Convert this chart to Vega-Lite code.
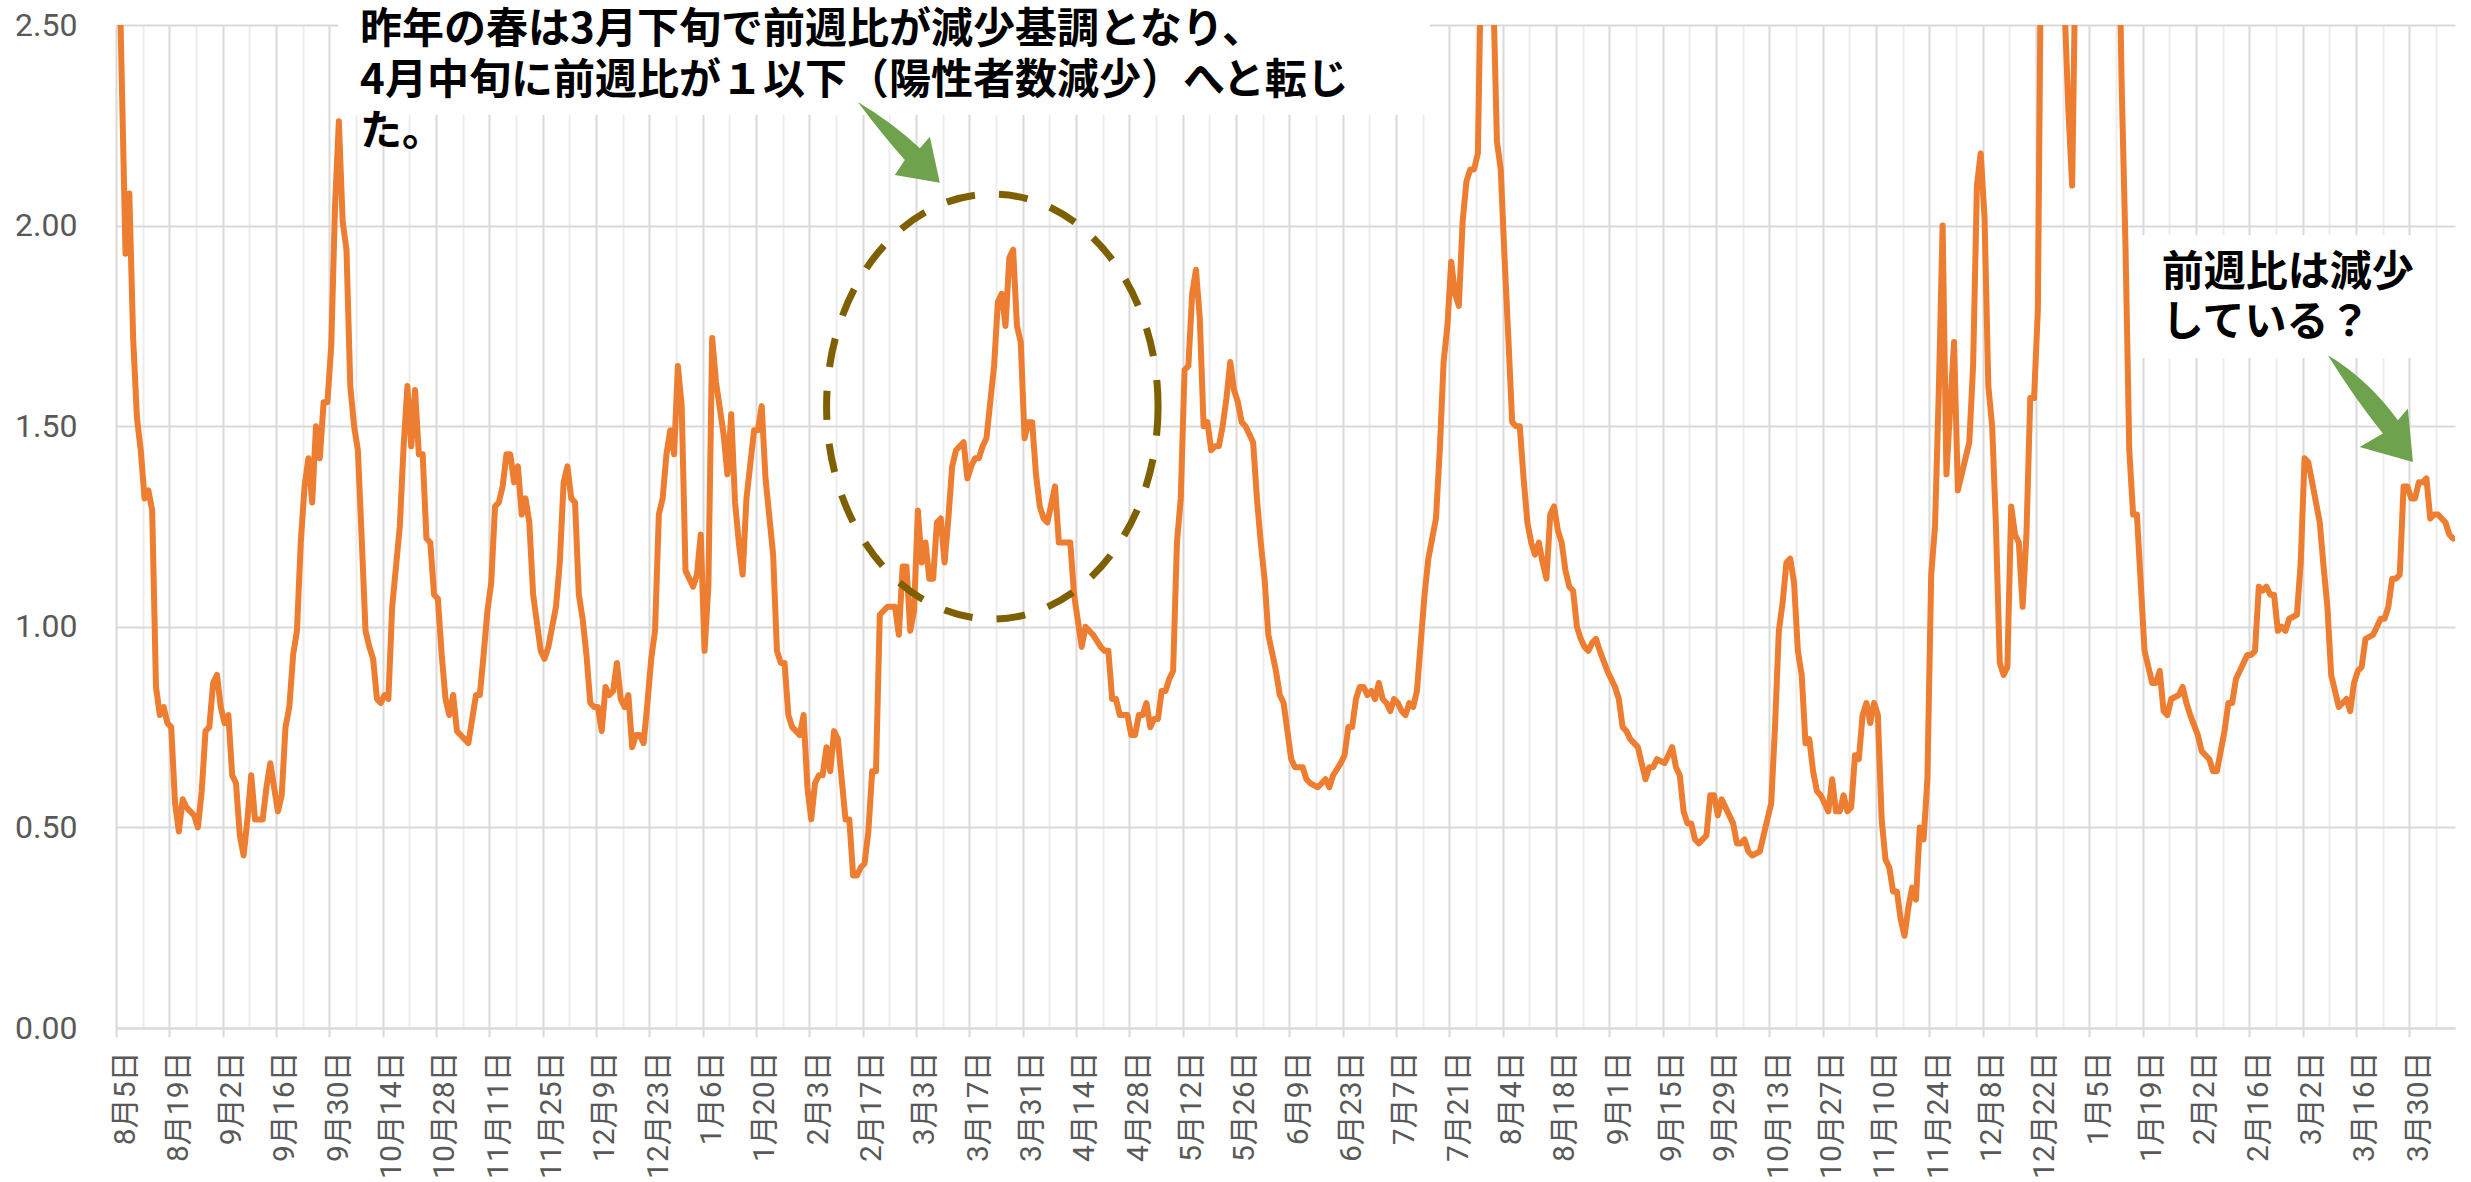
{
  "$schema": "https://vega.github.io/schema/vega-lite/v6.json",
  "width": 2339,
  "height": 1003,
  "autosize": {"type": "none"},
  "padding": {"left": 116, "top": 25, "right": 16, "bottom": 154},
  "background": "white",
  "config": {"view": {"stroke": null}},
  "datasets": {
    "ratio": [
      {"date":"2020-08-05","v":2.81},{"date":"2020-08-06","v":2.37},{"date":"2020-08-07","v":1.93},{"date":"2020-08-08","v":2.08},{"date":"2020-08-09","v":1.72},{"date":"2020-08-10","v":1.52},{"date":"2020-08-11","v":1.44},{"date":"2020-08-12","v":1.32},{"date":"2020-08-13","v":1.34},{"date":"2020-08-14","v":1.29},{"date":"2020-08-15","v":0.85},{"date":"2020-08-16","v":0.78},{"date":"2020-08-17","v":0.80},{"date":"2020-08-18","v":0.76},{"date":"2020-08-19","v":0.75},{"date":"2020-08-20","v":0.56},{"date":"2020-08-21","v":0.49},{"date":"2020-08-22","v":0.57},{"date":"2020-08-23","v":0.55},{"date":"2020-08-24","v":0.54},{"date":"2020-08-25","v":0.53},{"date":"2020-08-26","v":0.50},{"date":"2020-08-27","v":0.59},{"date":"2020-08-28","v":0.74},{"date":"2020-08-29","v":0.75},{"date":"2020-08-30","v":0.86},{"date":"2020-08-31","v":0.88},
      {"date":"2020-09-01","v":0.80},{"date":"2020-09-02","v":0.76},{"date":"2020-09-03","v":0.78},{"date":"2020-09-04","v":0.63},{"date":"2020-09-05","v":0.61},{"date":"2020-09-06","v":0.48},{"date":"2020-09-07","v":0.43},{"date":"2020-09-08","v":0.52},{"date":"2020-09-09","v":0.63},{"date":"2020-09-10","v":0.52},{"date":"2020-09-11","v":0.52},{"date":"2020-09-12","v":0.52},{"date":"2020-09-13","v":0.60},{"date":"2020-09-14","v":0.66},{"date":"2020-09-15","v":0.60},{"date":"2020-09-16","v":0.54},{"date":"2020-09-17","v":0.58},{"date":"2020-09-18","v":0.75},{"date":"2020-09-19","v":0.80},{"date":"2020-09-20","v":0.93},{"date":"2020-09-21","v":0.99},{"date":"2020-09-22","v":1.21},{"date":"2020-09-23","v":1.35},{"date":"2020-09-24","v":1.42},{"date":"2020-09-25","v":1.31},{"date":"2020-09-26","v":1.50},{"date":"2020-09-27","v":1.42},{"date":"2020-09-28","v":1.56},{"date":"2020-09-29","v":1.56},{"date":"2020-09-30","v":1.70},
      {"date":"2020-10-01","v":2.05},{"date":"2020-10-02","v":2.26},{"date":"2020-10-03","v":2.01},{"date":"2020-10-04","v":1.94},{"date":"2020-10-05","v":1.60},{"date":"2020-10-06","v":1.50},{"date":"2020-10-07","v":1.44},{"date":"2020-10-08","v":1.22},{"date":"2020-10-09","v":0.99},{"date":"2020-10-10","v":0.95},{"date":"2020-10-11","v":0.92},{"date":"2020-10-12","v":0.82},{"date":"2020-10-13","v":0.81},{"date":"2020-10-14","v":0.83},{"date":"2020-10-15","v":0.82},{"date":"2020-10-16","v":1.05},{"date":"2020-10-17","v":1.15},{"date":"2020-10-18","v":1.25},{"date":"2020-10-19","v":1.45},{"date":"2020-10-20","v":1.60},{"date":"2020-10-21","v":1.45},{"date":"2020-10-22","v":1.59},{"date":"2020-10-23","v":1.43},{"date":"2020-10-24","v":1.43},{"date":"2020-10-25","v":1.22},{"date":"2020-10-26","v":1.21},{"date":"2020-10-27","v":1.08},{"date":"2020-10-28","v":1.07},{"date":"2020-10-29","v":0.93},{"date":"2020-10-30","v":0.82},{"date":"2020-10-31","v":0.78},
      {"date":"2020-11-01","v":0.83},{"date":"2020-11-02","v":0.74},{"date":"2020-11-03","v":0.73},{"date":"2020-11-04","v":0.72},{"date":"2020-11-05","v":0.71},{"date":"2020-11-06","v":0.77},{"date":"2020-11-07","v":0.83},{"date":"2020-11-08","v":0.83},{"date":"2020-11-09","v":0.93},{"date":"2020-11-10","v":1.04},{"date":"2020-11-11","v":1.11},{"date":"2020-11-12","v":1.30},{"date":"2020-11-13","v":1.31},{"date":"2020-11-14","v":1.35},{"date":"2020-11-15","v":1.43},{"date":"2020-11-16","v":1.43},{"date":"2020-11-17","v":1.36},{"date":"2020-11-18","v":1.40},{"date":"2020-11-19","v":1.28},{"date":"2020-11-20","v":1.32},{"date":"2020-11-21","v":1.26},{"date":"2020-11-22","v":1.08},{"date":"2020-11-23","v":1.01},{"date":"2020-11-24","v":0.94},{"date":"2020-11-25","v":0.92},{"date":"2020-11-26","v":0.95},{"date":"2020-11-27","v":1.00},{"date":"2020-11-28","v":1.05},{"date":"2020-11-29","v":1.16},{"date":"2020-11-30","v":1.36},
      {"date":"2020-12-01","v":1.40},{"date":"2020-12-02","v":1.32},{"date":"2020-12-03","v":1.31},{"date":"2020-12-04","v":1.08},{"date":"2020-12-05","v":1.02},{"date":"2020-12-06","v":0.93},{"date":"2020-12-07","v":0.81},{"date":"2020-12-08","v":0.80},{"date":"2020-12-09","v":0.80},{"date":"2020-12-10","v":0.74},{"date":"2020-12-11","v":0.85},{"date":"2020-12-12","v":0.83},{"date":"2020-12-13","v":0.84},{"date":"2020-12-14","v":0.91},{"date":"2020-12-15","v":0.82},{"date":"2020-12-16","v":0.80},{"date":"2020-12-17","v":0.83},{"date":"2020-12-18","v":0.70},{"date":"2020-12-19","v":0.73},{"date":"2020-12-20","v":0.73},{"date":"2020-12-21","v":0.71},{"date":"2020-12-22","v":0.81},{"date":"2020-12-23","v":0.92},{"date":"2020-12-24","v":0.99},{"date":"2020-12-25","v":1.28},{"date":"2020-12-26","v":1.32},{"date":"2020-12-27","v":1.43},{"date":"2020-12-28","v":1.49},{"date":"2020-12-29","v":1.43},{"date":"2020-12-30","v":1.65},{"date":"2020-12-31","v":1.55},
      {"date":"2021-01-01","v":1.14},{"date":"2021-01-02","v":1.12},{"date":"2021-01-03","v":1.10},{"date":"2021-01-04","v":1.13},{"date":"2021-01-05","v":1.23},{"date":"2021-01-06","v":0.94},{"date":"2021-01-07","v":1.10},{"date":"2021-01-08","v":1.72},{"date":"2021-01-09","v":1.61},{"date":"2021-01-11","v":1.48},{"date":"2021-01-12","v":1.38},{"date":"2021-01-13","v":1.53},{"date":"2021-01-14","v":1.31},{"date":"2021-01-15","v":1.21},{"date":"2021-01-16","v":1.13},{"date":"2021-01-17","v":1.32},{"date":"2021-01-19","v":1.49},{"date":"2021-01-20","v":1.49},{"date":"2021-01-21","v":1.55},{"date":"2021-01-22","v":1.37},{"date":"2021-01-24","v":1.18},{"date":"2021-01-25","v":0.94},{"date":"2021-01-26","v":0.91},{"date":"2021-01-27","v":0.91},{"date":"2021-01-28","v":0.78},{"date":"2021-01-29","v":0.75},{"date":"2021-01-30","v":0.74},{"date":"2021-01-31","v":0.73},
      {"date":"2021-02-01","v":0.78},{"date":"2021-02-02","v":0.60},{"date":"2021-02-03","v":0.52},{"date":"2021-02-04","v":0.61},{"date":"2021-02-05","v":0.63},{"date":"2021-02-06","v":0.63},{"date":"2021-02-07","v":0.70},{"date":"2021-02-08","v":0.64},{"date":"2021-02-09","v":0.74},{"date":"2021-02-10","v":0.72},{"date":"2021-02-12","v":0.52},{"date":"2021-02-13","v":0.52},{"date":"2021-02-14","v":0.38},{"date":"2021-02-15","v":0.38},{"date":"2021-02-16","v":0.40},{"date":"2021-02-17","v":0.41},{"date":"2021-02-18","v":0.49},{"date":"2021-02-19","v":0.64},{"date":"2021-02-20","v":0.64},{"date":"2021-02-21","v":1.03},{"date":"2021-02-22","v":1.04},{"date":"2021-02-23","v":1.05},{"date":"2021-02-25","v":1.05},{"date":"2021-02-26","v":0.98},{"date":"2021-02-27","v":1.15},{"date":"2021-02-28","v":1.15},
      {"date":"2021-03-01","v":0.99},{"date":"2021-03-02","v":1.04},{"date":"2021-03-03","v":1.29},{"date":"2021-03-04","v":1.16},{"date":"2021-03-05","v":1.21},{"date":"2021-03-06","v":1.12},{"date":"2021-03-07","v":1.12},{"date":"2021-03-08","v":1.26},{"date":"2021-03-09","v":1.27},{"date":"2021-03-10","v":1.16},{"date":"2021-03-11","v":1.27},{"date":"2021-03-12","v":1.40},{"date":"2021-03-13","v":1.44},{"date":"2021-03-14","v":1.45},{"date":"2021-03-15","v":1.46},{"date":"2021-03-16","v":1.37},{"date":"2021-03-17","v":1.40},{"date":"2021-03-18","v":1.42},{"date":"2021-03-19","v":1.42},{"date":"2021-03-20","v":1.45},{"date":"2021-03-21","v":1.47},{"date":"2021-03-23","v":1.65},{"date":"2021-03-24","v":1.81},{"date":"2021-03-25","v":1.83},{"date":"2021-03-26","v":1.75},{"date":"2021-03-27","v":1.92},{"date":"2021-03-28","v":1.94},{"date":"2021-03-29","v":1.75},{"date":"2021-03-30","v":1.71},{"date":"2021-03-31","v":1.47},
      {"date":"2021-04-01","v":1.51},{"date":"2021-04-02","v":1.51},{"date":"2021-04-03","v":1.38},{"date":"2021-04-04","v":1.30},{"date":"2021-04-05","v":1.27},{"date":"2021-04-06","v":1.26},{"date":"2021-04-08","v":1.35},{"date":"2021-04-09","v":1.21},{"date":"2021-04-11","v":1.21},{"date":"2021-04-12","v":1.21},{"date":"2021-04-13","v":1.08},{"date":"2021-04-15","v":0.95},{"date":"2021-04-16","v":1.00},{"date":"2021-04-17","v":0.99},{"date":"2021-04-18","v":0.98},{"date":"2021-04-20","v":0.95},{"date":"2021-04-21","v":0.94},{"date":"2021-04-22","v":0.94},{"date":"2021-04-23","v":0.82},{"date":"2021-04-24","v":0.82},{"date":"2021-04-25","v":0.78},{"date":"2021-04-26","v":0.78},{"date":"2021-04-27","v":0.78},{"date":"2021-04-28","v":0.73},{"date":"2021-04-29","v":0.73},{"date":"2021-04-30","v":0.78},
      {"date":"2021-05-01","v":0.78},{"date":"2021-05-02","v":0.81},{"date":"2021-05-03","v":0.75},{"date":"2021-05-04","v":0.77},{"date":"2021-05-05","v":0.77},{"date":"2021-05-06","v":0.84},{"date":"2021-05-07","v":0.84},{"date":"2021-05-08","v":0.87},{"date":"2021-05-09","v":0.89},{"date":"2021-05-10","v":1.21},{"date":"2021-05-11","v":1.32},{"date":"2021-05-12","v":1.64},{"date":"2021-05-13","v":1.65},{"date":"2021-05-14","v":1.83},{"date":"2021-05-15","v":1.89},{"date":"2021-05-16","v":1.77},{"date":"2021-05-17","v":1.50},{"date":"2021-05-18","v":1.51},{"date":"2021-05-19","v":1.44},{"date":"2021-05-20","v":1.45},{"date":"2021-05-21","v":1.45},{"date":"2021-05-22","v":1.50},{"date":"2021-05-23","v":1.57},{"date":"2021-05-24","v":1.66},{"date":"2021-05-25","v":1.59},{"date":"2021-05-26","v":1.56},{"date":"2021-05-27","v":1.51},{"date":"2021-05-28","v":1.50},{"date":"2021-05-29","v":1.48},{"date":"2021-05-30","v":1.46},{"date":"2021-05-31","v":1.32},
      {"date":"2021-06-01","v":1.21},{"date":"2021-06-02","v":1.12},{"date":"2021-06-03","v":0.98},{"date":"2021-06-05","v":0.89},{"date":"2021-06-06","v":0.83},{"date":"2021-06-07","v":0.81},{"date":"2021-06-08","v":0.74},{"date":"2021-06-09","v":0.67},{"date":"2021-06-10","v":0.65},{"date":"2021-06-12","v":0.65},{"date":"2021-06-13","v":0.62},{"date":"2021-06-14","v":0.61},{"date":"2021-06-16","v":0.60},{"date":"2021-06-17","v":0.61},{"date":"2021-06-18","v":0.62},{"date":"2021-06-19","v":0.60},{"date":"2021-06-20","v":0.63},{"date":"2021-06-22","v":0.66},{"date":"2021-06-23","v":0.68},{"date":"2021-06-24","v":0.75},{"date":"2021-06-25","v":0.75},{"date":"2021-06-26","v":0.82},{"date":"2021-06-27","v":0.85},{"date":"2021-06-28","v":0.85},{"date":"2021-06-29","v":0.83},{"date":"2021-06-30","v":0.84},
      {"date":"2021-07-01","v":0.82},{"date":"2021-07-02","v":0.86},{"date":"2021-07-03","v":0.82},{"date":"2021-07-04","v":0.81},{"date":"2021-07-05","v":0.79},{"date":"2021-07-06","v":0.82},{"date":"2021-07-07","v":0.81},{"date":"2021-07-08","v":0.79},{"date":"2021-07-09","v":0.78},{"date":"2021-07-10","v":0.81},{"date":"2021-07-11","v":0.80},{"date":"2021-07-12","v":0.84},{"date":"2021-07-13","v":0.96},{"date":"2021-07-14","v":1.08},{"date":"2021-07-15","v":1.17},{"date":"2021-07-17","v":1.27},{"date":"2021-07-18","v":1.44},{"date":"2021-07-19","v":1.66},{"date":"2021-07-20","v":1.75},{"date":"2021-07-21","v":1.91},{"date":"2021-07-22","v":1.83},{"date":"2021-07-23","v":1.80},{"date":"2021-07-24","v":2.01},{"date":"2021-07-25","v":2.11},{"date":"2021-07-26","v":2.14},{"date":"2021-07-27","v":2.14},{"date":"2021-07-28","v":2.18},{"date":"2021-07-29","v":2.75},{"date":"2021-07-30","v":2.95},{"date":"2021-07-31","v":2.85},
      {"date":"2021-08-01","v":2.60},{"date":"2021-08-02","v":2.21},{"date":"2021-08-03","v":2.14},{"date":"2021-08-04","v":1.92},{"date":"2021-08-05","v":1.72},{"date":"2021-08-06","v":1.51},{"date":"2021-08-07","v":1.50},{"date":"2021-08-08","v":1.50},{"date":"2021-08-09","v":1.37},{"date":"2021-08-10","v":1.26},{"date":"2021-08-11","v":1.21},{"date":"2021-08-12","v":1.18},{"date":"2021-08-13","v":1.21},{"date":"2021-08-14","v":1.16},{"date":"2021-08-15","v":1.12},{"date":"2021-08-16","v":1.28},{"date":"2021-08-17","v":1.30},{"date":"2021-08-18","v":1.24},{"date":"2021-08-19","v":1.21},{"date":"2021-08-20","v":1.14},{"date":"2021-08-21","v":1.10},{"date":"2021-08-22","v":1.09},{"date":"2021-08-23","v":1.00},{"date":"2021-08-24","v":0.97},{"date":"2021-08-25","v":0.95},{"date":"2021-08-26","v":0.94},{"date":"2021-08-27","v":0.96},{"date":"2021-08-28","v":0.97},{"date":"2021-08-29","v":0.94},{"date":"2021-08-31","v":0.89},
      {"date":"2021-09-01","v":0.87},{"date":"2021-09-02","v":0.85},{"date":"2021-09-03","v":0.82},{"date":"2021-09-04","v":0.75},{"date":"2021-09-05","v":0.74},{"date":"2021-09-06","v":0.72},{"date":"2021-09-08","v":0.70},{"date":"2021-09-09","v":0.66},{"date":"2021-09-10","v":0.62},{"date":"2021-09-11","v":0.65},{"date":"2021-09-12","v":0.65},{"date":"2021-09-13","v":0.67},{"date":"2021-09-15","v":0.66},{"date":"2021-09-16","v":0.68},{"date":"2021-09-17","v":0.70},{"date":"2021-09-18","v":0.65},{"date":"2021-09-19","v":0.63},{"date":"2021-09-20","v":0.54},{"date":"2021-09-21","v":0.51},{"date":"2021-09-22","v":0.51},{"date":"2021-09-23","v":0.47},{"date":"2021-09-24","v":0.46},{"date":"2021-09-26","v":0.48},{"date":"2021-09-27","v":0.58},{"date":"2021-09-28","v":0.58},{"date":"2021-09-29","v":0.53},{"date":"2021-09-30","v":0.57},
      {"date":"2021-10-01","v":0.55},{"date":"2021-10-03","v":0.51},{"date":"2021-10-04","v":0.46},{"date":"2021-10-05","v":0.46},{"date":"2021-10-06","v":0.47},{"date":"2021-10-07","v":0.44},{"date":"2021-10-08","v":0.43},{"date":"2021-10-10","v":0.44},{"date":"2021-10-11","v":0.48},{"date":"2021-10-12","v":0.52},{"date":"2021-10-13","v":0.56},{"date":"2021-10-14","v":0.75},{"date":"2021-10-15","v":0.99},{"date":"2021-10-16","v":1.06},{"date":"2021-10-17","v":1.16},{"date":"2021-10-18","v":1.17},{"date":"2021-10-19","v":1.11},{"date":"2021-10-20","v":0.94},{"date":"2021-10-21","v":0.88},{"date":"2021-10-22","v":0.71},{"date":"2021-10-23","v":0.72},{"date":"2021-10-24","v":0.64},{"date":"2021-10-25","v":0.59},{"date":"2021-10-26","v":0.58},{"date":"2021-10-27","v":0.56},{"date":"2021-10-28","v":0.54},{"date":"2021-10-29","v":0.62},{"date":"2021-10-30","v":0.54},{"date":"2021-10-31","v":0.54},
      {"date":"2021-11-01","v":0.58},{"date":"2021-11-02","v":0.54},{"date":"2021-11-03","v":0.55},{"date":"2021-11-04","v":0.68},{"date":"2021-11-05","v":0.67},{"date":"2021-11-06","v":0.78},{"date":"2021-11-07","v":0.81},{"date":"2021-11-08","v":0.76},{"date":"2021-11-09","v":0.81},{"date":"2021-11-10","v":0.78},{"date":"2021-11-11","v":0.52},{"date":"2021-11-12","v":0.42},{"date":"2021-11-13","v":0.40},{"date":"2021-11-14","v":0.34},{"date":"2021-11-15","v":0.34},{"date":"2021-11-16","v":0.27},{"date":"2021-11-17","v":0.23},{"date":"2021-11-18","v":0.30},{"date":"2021-11-19","v":0.35},{"date":"2021-11-20","v":0.32},{"date":"2021-11-21","v":0.50},{"date":"2021-11-22","v":0.47},{"date":"2021-11-23","v":0.62},{"date":"2021-11-24","v":1.13},{"date":"2021-11-25","v":1.25},{"date":"2021-11-26","v":1.59},{"date":"2021-11-27","v":2.00},{"date":"2021-11-28","v":1.38},{"date":"2021-11-29","v":1.55},{"date":"2021-11-30","v":1.71},
      {"date":"2021-12-01","v":1.34},{"date":"2021-12-02","v":1.38},{"date":"2021-12-03","v":1.42},{"date":"2021-12-04","v":1.46},{"date":"2021-12-05","v":1.65},{"date":"2021-12-06","v":2.10},{"date":"2021-12-07","v":2.18},{"date":"2021-12-08","v":2.02},{"date":"2021-12-09","v":1.60},{"date":"2021-12-10","v":1.50},{"date":"2021-12-11","v":1.25},{"date":"2021-12-12","v":0.91},{"date":"2021-12-13","v":0.88},{"date":"2021-12-14","v":0.90},{"date":"2021-12-15","v":1.30},{"date":"2021-12-16","v":1.23},{"date":"2021-12-17","v":1.21},{"date":"2021-12-18","v":1.05},{"date":"2021-12-19","v":1.23},{"date":"2021-12-20","v":1.57},{"date":"2021-12-21","v":1.57},{"date":"2021-12-22","v":1.79},{"date":"2021-12-23","v":2.90},{"date":"2021-12-24","v":3.30},{"date":"2021-12-26","v":3.60},{"date":"2021-12-28","v":3.00},{"date":"2021-12-29","v":2.55},{"date":"2021-12-30","v":2.29},{"date":"2021-12-31","v":2.10},
      {"date":"2022-01-01","v":2.75},{"date":"2022-01-03","v":3.50},{"date":"2022-01-07","v":4.00},{"date":"2022-01-10","v":3.50},{"date":"2022-01-12","v":2.90},{"date":"2022-01-13","v":2.35},{"date":"2022-01-14","v":1.95},{"date":"2022-01-15","v":1.44},{"date":"2022-01-16","v":1.28},{"date":"2022-01-17","v":1.28},{"date":"2022-01-18","v":1.11},{"date":"2022-01-19","v":0.94},{"date":"2022-01-20","v":0.90},{"date":"2022-01-21","v":0.86},{"date":"2022-01-22","v":0.86},{"date":"2022-01-23","v":0.89},{"date":"2022-01-24","v":0.79},{"date":"2022-01-25","v":0.78},{"date":"2022-01-26","v":0.82},{"date":"2022-01-28","v":0.83},{"date":"2022-01-29","v":0.85},{"date":"2022-01-30","v":0.81},{"date":"2022-01-31","v":0.78},
      {"date":"2022-02-02","v":0.73},{"date":"2022-02-03","v":0.69},{"date":"2022-02-05","v":0.67},{"date":"2022-02-06","v":0.64},{"date":"2022-02-07","v":0.64},{"date":"2022-02-08","v":0.69},{"date":"2022-02-09","v":0.74},{"date":"2022-02-10","v":0.81},{"date":"2022-02-11","v":0.81},{"date":"2022-02-12","v":0.87},{"date":"2022-02-13","v":0.89},{"date":"2022-02-14","v":0.91},{"date":"2022-02-15","v":0.93},{"date":"2022-02-16","v":0.93},{"date":"2022-02-17","v":0.94},{"date":"2022-02-18","v":1.10},{"date":"2022-02-19","v":1.09},{"date":"2022-02-20","v":1.10},{"date":"2022-02-21","v":1.08},{"date":"2022-02-22","v":1.08},{"date":"2022-02-23","v":0.99},{"date":"2022-02-24","v":1.00},{"date":"2022-02-25","v":0.99},{"date":"2022-02-26","v":1.02},{"date":"2022-02-28","v":1.03},
      {"date":"2022-03-01","v":1.16},{"date":"2022-03-02","v":1.42},{"date":"2022-03-03","v":1.41},{"date":"2022-03-05","v":1.31},{"date":"2022-03-06","v":1.26},{"date":"2022-03-07","v":1.15},{"date":"2022-03-08","v":1.05},{"date":"2022-03-09","v":0.88},{"date":"2022-03-10","v":0.84},{"date":"2022-03-11","v":0.80},{"date":"2022-03-12","v":0.81},{"date":"2022-03-13","v":0.82},{"date":"2022-03-14","v":0.79},{"date":"2022-03-15","v":0.86},{"date":"2022-03-16","v":0.89},{"date":"2022-03-17","v":0.90},{"date":"2022-03-18","v":0.97},{"date":"2022-03-20","v":0.98},{"date":"2022-03-21","v":1.00},{"date":"2022-03-22","v":1.02},{"date":"2022-03-23","v":1.02},{"date":"2022-03-24","v":1.05},{"date":"2022-03-25","v":1.12},{"date":"2022-03-26","v":1.12},{"date":"2022-03-27","v":1.13},{"date":"2022-03-28","v":1.35},{"date":"2022-03-29","v":1.35},{"date":"2022-03-30","v":1.32},{"date":"2022-03-31","v":1.32},
      {"date":"2022-04-01","v":1.36},{"date":"2022-04-02","v":1.36},{"date":"2022-04-03","v":1.37},{"date":"2022-04-04","v":1.27},{"date":"2022-04-05","v":1.28},{"date":"2022-04-06","v":1.28},{"date":"2022-04-08","v":1.26},{"date":"2022-04-09","v":1.23},{"date":"2022-04-10","v":1.22}
    ]
  },
  "encoding": {
    "x": {
      "field": "date",
      "type": "temporal",
      "scale": {"type": "utc", "domain": [1596542400000, 1649592000000]},
      "axis": {
        "title": null,
        "values": [1596542400000,1597147200000,1597752000000,1598356800000,1598961600000,1599566400000,1600171200000,1600776000000,1601380800000,1601985600000,1602590400000,1603195200000,1603800000000,1604404800000,1605009600000,1605614400000,1606219200000,1606824000000,1607428800000,1608033600000,1608638400000,1609243200000,1609848000000,1610452800000,1611057600000,1611662400000,1612267200000,1612872000000,1613476800000,1614081600000,1614686400000,1615291200000,1615896000000,1616500800000,1617105600000,1617710400000,1618315200000,1618920000000,1619524800000,1620129600000,1620734400000,1621339200000,1621944000000,1622548800000,1623153600000,1623758400000,1624363200000,1624968000000,1625572800000,1626177600000,1626782400000,1627387200000,1627992000000,1628596800000,1629201600000,1629806400000,1630411200000,1631016000000,1631620800000,1632225600000,1632830400000,1633435200000,1634040000000,1634644800000,1635249600000,1635854400000,1636459200000,1637064000000,1637668800000,1638273600000,1638878400000,1639483200000,1640088000000,1640692800000,1641297600000,1641902400000,1642507200000,1643112000000,1643716800000,1644321600000,1644926400000,1645531200000,1646136000000,1646740800000,1647345600000,1647950400000,1648555200000,1649160000000],
        "labelExpr": "round((time(datum.value) - 1596542400000) / 604800000) % 2 === 0 ? utcFormat(time(datum.value) + 43200000, '%-m月%-d日') : ''",
        "labelAngle": -90,
        "labelAlign": "right",
        "labelBaseline": "middle",
        "labelFont": "Roboto, Noto Sans CJK JP",
        "labelFontSize": 30,
        "labelColor": "#595959",
        "labelOverlap": false,
        "labelBound": false,
        "labelFlush": false,
        "labelPadding": 14,
        "labelOffset": 9,
        "tickSize": 9,
        "tickWidth": 2,
        "tickColor": {"condition": {"test": "round((time(datum.value) - 1596542400000) / 604800000) % 2 === 0", "value": "#d9d9d9"}, "value": "rgba(255,255,255,0)"},
        "grid": true,
        "gridWidth": 2,
        "gridColor": {"condition": {"test": "round((time(datum.value) - 1596542400000) / 604800000) % 2 === 0", "value": "#d9d9d9"}, "value": "#ededed"},
        "domainColor": "#d9d9d9",
        "domainWidth": 2
      }
    },
    "y": {
      "field": "v",
      "type": "quantitative",
      "scale": {"domain": [0, 2.5], "nice": false, "zero": false},
      "axis": {
        "title": null,
        "values": [0, 0.5, 1, 1.5, 2, 2.5],
        "format": ".2f",
        "domain": false,
        "ticks": false,
        "labelFont": "Roboto",
        "labelFontSize": 32,
        "labelColor": "#595959",
        "labelPadding": 39,
        "gridColor": "#d9d9d9",
        "gridWidth": 2
      }
    }
  },
  "layer": [
    {
      "data": {"values": [
        {"date": "2020-10-01T19:00:00Z", "v": 2.57, "date2": "2021-07-15T10:00:00Z", "v2": 2.276},
        {"date": "2022-01-17T05:00:00Z", "v": 1.976, "date2": "2022-04-01T05:00:00Z", "v2": 1.67}
      ]},
      "mark": {"type": "rect", "fill": "white", "stroke": null},
      "encoding": {"x2": {"field": "date2"}, "y2": {"field": "v2"}}
    },
    {
      "data": {"name": "ratio"},
      "mark": {"type": "line", "color": "#ED7D31", "strokeWidth": 6, "clip": true, "strokeJoin": "round", "strokeCap": "round"}
    },
    {
      "data": {"values": [{"date": "2021-03-22T13:00:00Z", "v": 1.549}]},
      "mark": {"type": "point", "shape": "M 0.78 0 C 0.78 0.5523 0.4308 1 0 1 C -0.4308 1 -0.78 0.5523 -0.78 0 C -0.78 -0.5523 -0.4308 -1 0 -1 C 0.4308 -1 0.78 -0.5523 0.78 0 Z", "size": 180625, "filled": false, "stroke": "#7f6000", "strokeWidth": 7, "strokeDash": [29, 24], "opacity": 1}
    },
    {
      "data": {"values": [{"date": "2021-02-26T00:00:00Z", "v": 2.207}]},
      "mark": {"type": "point", "shape": "M -0.911 -0.9 Q -0.15 -0.45 0.467 0.129 L 0.689 -0.129 L 0.911 0.893 L -0.089 0.722 L 0.133 0.389 Q -0.35 -0.15 -0.911 -0.9 Z", "size": 8100, "filled": true, "color": "#6fa24c", "opacity": 1, "strokeWidth": 0}
    },
    {
      "data": {"values": [{"date": "2022-03-19T07:00:00Z", "v": 1.544}]},
      "mark": {"type": "point", "shape": "M -0.787 -0.987 Q -0.05 -0.55 0.509 0.217 L 0.694 0 L 0.787 0.989 L -0.2 0.711 L 0.231 0.463 Q -0.3 -0.2 -0.787 -0.987 Z", "size": 11664, "filled": true, "color": "#6fa24c", "opacity": 1, "strokeWidth": 0}
    },
    {
      "data": {"values": [
        {"date": "2020-10-07T14:00:00Z", "v": 2.4875, "label": "昨年の春は3月下旬で前週比が減少基調となり、"},
        {"date": "2020-10-07T14:00:00Z", "v": 2.360, "label": "4月中旬に前週比が１以下（陽性者数減少）へと転じ"},
        {"date": "2020-10-07T14:00:00Z", "v": 2.233, "label": "た。"},
        {"date": "2022-01-23T12:00:00Z", "v": 1.8815, "label": "前週比は減少"},
        {"date": "2022-01-23T12:00:00Z", "v": 1.757, "label": "している？"}
      ]},
      "mark": {"type": "text", "align": "left", "baseline": "middle", "font": "Noto Sans CJK JP", "fontSize": 42, "fontWeight": "bold", "color": "#000000"},
      "encoding": {"text": {"field": "label"}}
    }
  ]
}
